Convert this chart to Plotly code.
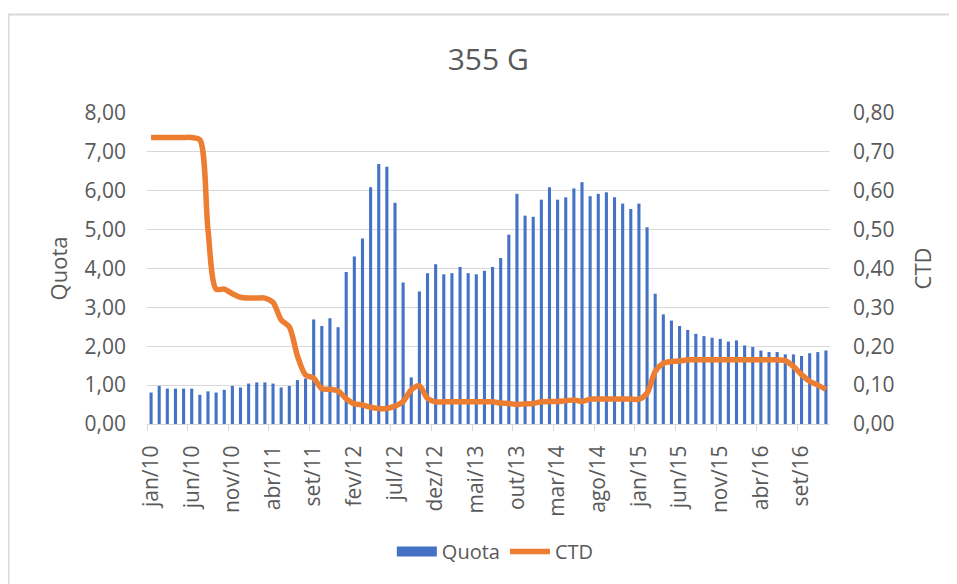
import plotly.graph_objects as go

month_abbr = ["jan", "fev", "mar", "abr", "mai", "jun", "jul", "ago", "set", "out", "nov", "dez"]
years = ["10", "11", "12", "13", "14", "15", "16"]
months = [f"{m}/{y}" for y in years for m in month_abbr]

quota = [0.81, 0.98, 0.91, 0.91, 0.91, 0.91, 0.75, 0.84, 0.81, 0.88,
         0.98, 0.94, 1.04, 1.07, 1.07, 1.04, 0.94, 0.98, 1.13, 1.17,
         2.69, 2.52, 2.72, 2.49, 3.91, 4.31, 4.77, 6.09, 6.69, 6.62,
         5.69, 3.64, 1.20, 3.41, 3.88, 4.11, 3.85, 3.88, 4.04, 3.88,
         3.85, 3.94, 4.04, 4.27, 4.87, 5.92, 5.36, 5.33, 5.77, 6.09,
         5.77, 5.83, 6.06, 6.22, 5.86, 5.92, 5.96, 5.83, 5.67, 5.53,
         5.67, 5.06, 3.35, 2.82, 2.66, 2.52, 2.42, 2.32, 2.26, 2.22,
         2.19, 2.12, 2.15, 2.02, 1.98, 1.89, 1.85, 1.85, 1.79, 1.79,
         1.75, 1.82, 1.85, 1.89]

ctd = [0.737, 0.737, 0.737, 0.737, 0.737, 0.737, 0.731, 0.500, 0.347, 0.347,
       0.335, 0.326, 0.324, 0.324, 0.324, 0.313, 0.268, 0.250, 0.175, 0.126,
       0.118, 0.091, 0.089, 0.085, 0.065, 0.052, 0.049, 0.043, 0.040, 0.040,
       0.046, 0.058, 0.088, 0.098, 0.066, 0.057, 0.057, 0.057, 0.057, 0.057,
       0.057, 0.057, 0.057, 0.054, 0.053, 0.050, 0.052, 0.053, 0.057, 0.058,
       0.058, 0.060, 0.062, 0.058, 0.064, 0.064, 0.064, 0.064, 0.064, 0.064,
       0.064, 0.079, 0.135, 0.156, 0.161, 0.162, 0.165, 0.165, 0.165, 0.165,
       0.165, 0.165, 0.165, 0.165, 0.165, 0.165, 0.165, 0.165, 0.163, 0.148,
       0.127, 0.110, 0.100, 0.089]

x = list(range(len(months)))
tick_idx = x[::5]
tick_text = [months[i] for i in tick_idx]

FONT = "Open Sans, Segoe UI, sans-serif"
GREY = "#595959"
BLUE = "#4472C4"
ORANGE = "#ED7D31"

fig = go.Figure()
fig.add_trace(go.Bar(x=x, y=quota, name="Quota", marker_color=BLUE,
                     marker_line_width=0, showlegend=False, legendgroup="q"))
fig.add_trace(go.Scatter(x=x, y=ctd, name="CTD", yaxis="y2", mode="lines",
                         line=dict(color=ORANGE, width=5.5, shape="spline", smoothing=0.8),
                         showlegend=False, legendgroup="c"))
# legend entries (Excel-like wide swatches)
fig.add_trace(go.Scatter(x=[None], y=[None], name="Quota", mode="lines",
                         line=dict(color=BLUE, width=14), legendgroup="q"))
fig.add_trace(go.Scatter(x=[None], y=[None], name="CTD", mode="lines",
                         line=dict(color=ORANGE, width=5.5), legendgroup="c"))

# page has an 8px body margin: figure occupies page x 8..957, y 8..584
fig.update_layout(
    width=949, height=576,
    margin=dict(l=139, r=127, t=105, b=160, autoexpand=False),
    paper_bgcolor="white", plot_bgcolor="white",
    separators=",.",
    bargap=0.62,
    font=dict(family=FONT, color=GREY, size=20),
    title=dict(text="355 G", x=0.506, xanchor="center", y=0.91, yanchor="middle",
               font=dict(size=30, color=GREY, family=FONT)),
    xaxis=dict(range=[-0.5, len(months) - 0.5], tickmode="array", tickvals=tick_idx,
               ticktext=tick_text, tickangle=-90, ticks="", showgrid=False,
               showline=True, linecolor="#d9d9d9", linewidth=1,
               ticklabelstandoff=12,
               tickfont=dict(size=21, color=GREY),
               minor=dict(tick0=-0.5, dtick=5, ticks="outside", ticklen=6,
                          tickcolor="#d9d9d9", showgrid=False),
               zeroline=False),
    yaxis=dict(range=[0, 8], dtick=1, tickformat=".2f", showgrid=True,
               gridcolor="#d9d9d9", gridwidth=1, zeroline=False,
               ticklabelstandoff=20, tickfont=dict(size=21, color=GREY),
               title=dict(text="Quota", font=dict(size=22, color=GREY), standoff=10)),
    yaxis2=dict(range=[0, 0.8], dtick=0.1, tickformat=".2f", overlaying="y",
                side="right", showgrid=False, zeroline=False,
                ticklabelstandoff=22, tickfont=dict(size=21, color=GREY),
                title=dict(text="CTD", font=dict(size=22, color=GREY), standoff=22)),
    legend=dict(orientation="h", x=0.51, xanchor="center", y=-0.41, yanchor="middle",
                font=dict(size=20, color=GREY), traceorder="normal", itemwidth=40),
    shapes=[dict(type="rect", xref="paper", yref="paper",
                 x0=-0.2028, x1=1.3, y0=-0.7, y1=1.3167,
                 line=dict(color="#d9d9d9", width=2), fillcolor="rgba(0,0,0,0)",
                 layer="below")],
)

fig.write_html("out.html")
